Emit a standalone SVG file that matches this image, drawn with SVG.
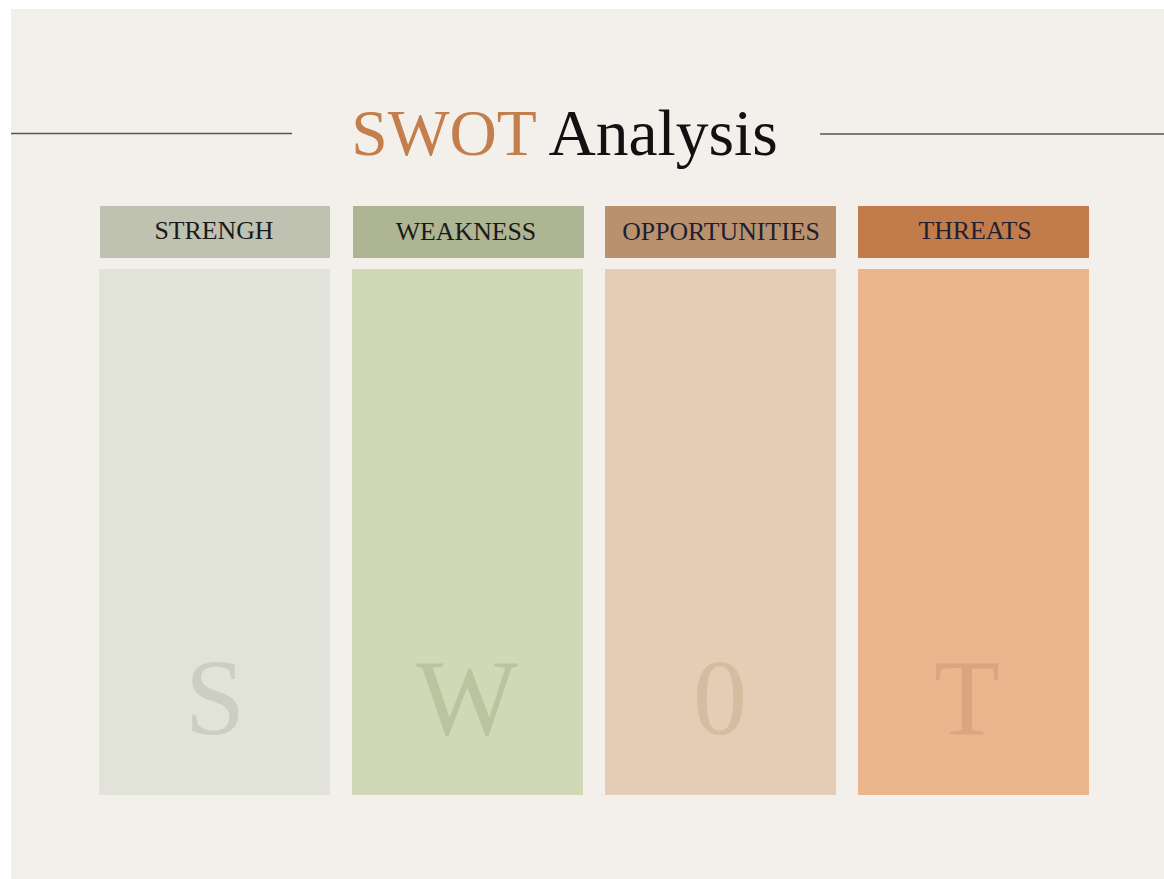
<svg xmlns="http://www.w3.org/2000/svg" width="1164" height="879" viewBox="0 0 1164 879">
<style>
.hd{font-family:"Liberation Serif","Times New Roman",serif;font-size:25.8px;text-anchor:middle}
.big{font-family:"Liberation Serif","Times New Roman",serif;font-size:108px;text-anchor:middle}
.title{font-family:"Liberation Serif","Times New Roman",serif;font-size:65.5px}
</style>
<rect width="1164" height="879" fill="#ffffff"/>
<rect x="11" y="9" width="1153" height="870" fill="#f3f0eb"/>
<g id="title">
<line x1="11" y1="133.5" x2="292" y2="133.5" stroke="#555552" stroke-width="1.6"/>
<line x1="820" y1="134" x2="1164" y2="134" stroke="#555552" stroke-width="1.6"/>
<text class="title" x="564.5" y="155" text-anchor="middle"><tspan fill="#c47e4c">SWOT</tspan><tspan fill="#111111"> Analysis</tspan></text>
</g>
<g id="strength">
<rect x="100" y="206" width="230" height="52" fill="#bfc1b1"/>
<text class="hd" x="214" y="239" fill="#1a1a1a">STRENGH</text>
<rect x="99" y="269" width="231" height="526" fill="#e2e3d8"/>
<text class="big" x="215" y="734" fill="#cdcec3">S</text>
</g>
<g id="weakness">
<rect x="353" y="206" width="231" height="52" fill="#adb592"/>
<text class="hd" x="466" y="240" fill="#1a1a1a">WEAKNESS</text>
<rect x="352" y="269" width="231" height="526" fill="#d1d8b6"/>
<text class="big" x="467" y="734" fill="#bac49f">W</text>
</g>
<g id="opportunities">
<rect x="605" y="206" width="231" height="52" fill="#b9926d"/>
<text class="hd" x="721" y="240" fill="#1d1f33">OPPORTUNITIES</text>
<rect x="605" y="269" width="231" height="526" fill="#e5ccb4"/>
<text class="big" x="720" y="734" fill="#d3bc9f">0</text>
</g>
<g id="threats">
<rect x="858" y="206" width="231" height="52" fill="#c27b4a"/>
<text class="hd" x="975" y="239" fill="#1d1f33">THREATS</text>
<rect x="858" y="269" width="231" height="526" fill="#ebb58e"/>
<text class="big" x="967" y="734" fill="#dba582">T</text>
</g>
<g id="connectors"/>
</svg>
